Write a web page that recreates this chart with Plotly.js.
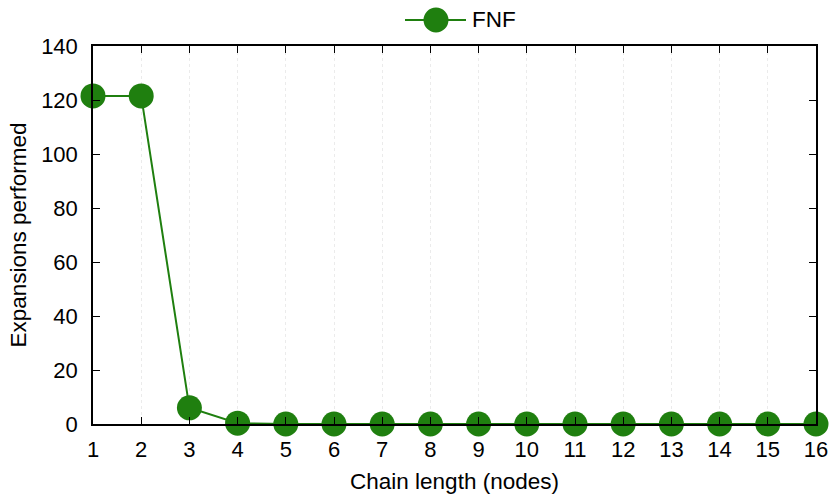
<!DOCTYPE html>
<html><head><meta charset="utf-8">
<script src="https://cdn.plot.ly/plotly-3.0.1.min.js"></script>
<style>body{margin:0;}</style></head>
<body><div id="chart" style="width:833px;height:499px;"></div>
<script>
const chainLength = [1,2,3,4,5,6,7,8,9,10,11,12,13,14,15,16];
const fnf = [121.5,121.5,6,0.3,0,0,0,0,0,0,0,0,0,0,0,0];
const yTicks = [0,20,40,60,80,100,120,140];
const seriesName = 'FNF';
const green = '#1f7f0f';

const trace = {
  x: chainLength, y: fnf, name: seriesName, type: 'scatter', mode: 'lines+markers',
  line: {color: green, width: 2},
  marker: {color: green, size: 25},
  cliponaxis: false, showlegend: false
};
// manual legend (Plotly clamps legend marker size)
const W = 723, H = 378;
const px = p => (p - 93) / W;
const py = p => (424 - p) / H;
const layout = {
  width: 833, height: 499,
  margin: {l: 93, r: 17, t: 46, b: 75},
  paper_bgcolor: '#fff', plot_bgcolor: '#fff',
  font: {family: 'Liberation Sans, Arial, sans-serif', size: 22, color: '#000'},
  showlegend: false,
  shapes: [
    {type: 'line', xref: 'paper', yref: 'paper', x0: px(405), x1: px(466), y0: py(20), y1: py(20), line: {color: green, width: 2}},
    {type: 'circle', xref: 'paper', yref: 'paper', x0: px(423.5), x1: px(448.5), y0: py(32.5), y1: py(7.5), fillcolor: green, line: {color: green, width: 0}}
  ],
  annotations: [
    {text: seriesName, xref: 'paper', yref: 'paper', x: px(470), y: py(20), xanchor: 'left', yanchor: 'middle', showarrow: false, font: {size: 22.5}}
  ],
  xaxis: {
    range: [1,16], tickvals: chainLength, ticks: 'inside', ticklen: 7, tickcolor: '#000',
    ticklabelstandoff: 5,
    showline: true, linecolor: '#000', linewidth: 1.5, mirror: 'ticks',
    showgrid: true, gridcolor: '#ebebeb', griddash: 'dot', gridwidth: 1, zeroline: false,
    title: {text: 'Chain length (nodes)', font: {size: 22.5}, standoff: 12}
  },
  yaxis: {
    range: [0,140], tickvals: yTicks, ticks: 'inside', ticklen: 7, tickcolor: '#000',
    ticklabelstandoff: 9,
    showline: true, linecolor: '#000', linewidth: 1.5, mirror: 'ticks',
    showgrid: false, zeroline: false,
    title: {text: 'Expansions performed', font: {size: 22.5}, standoff: 8}
  }
};
Plotly.newPlot('chart', [trace], layout, {displayModeBar: false});
</script></body></html>
